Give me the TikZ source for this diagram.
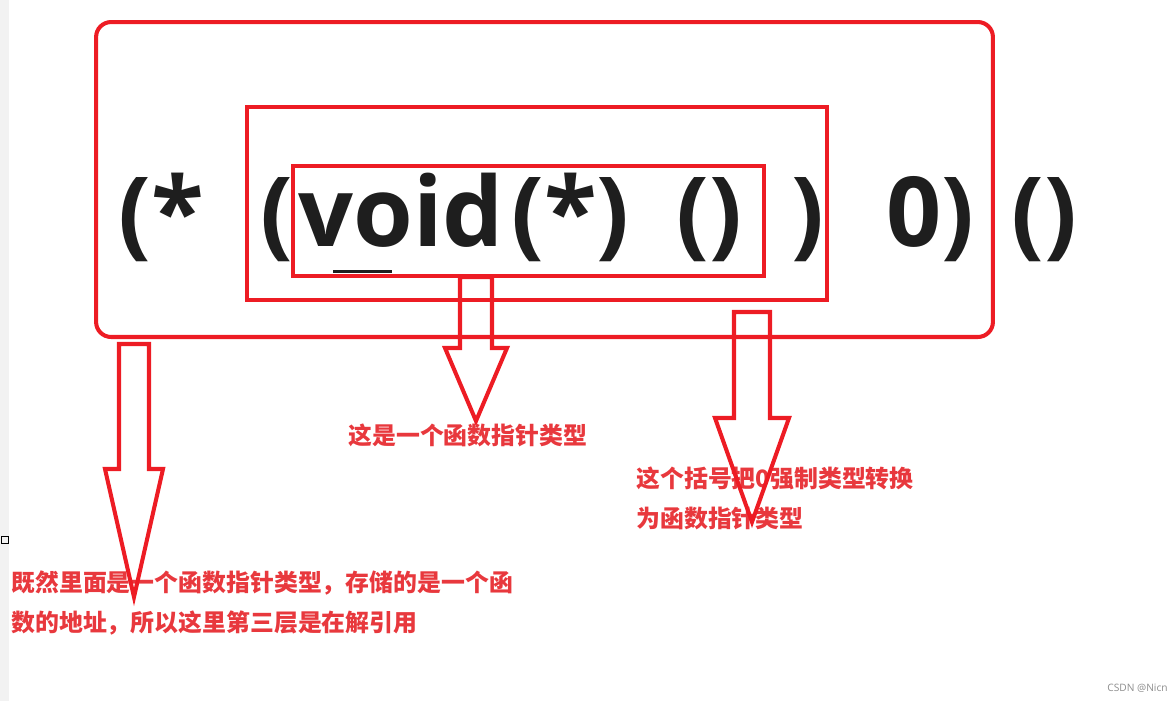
\documentclass[tikz,border=0pt]{standalone}
\usepackage{fontspec}
\usetikzlibrary{positioning,fit}
\newfontfamily\codefont{Open Sans}
\newfontfamily\cjk{Noto Sans CJK SC}
\definecolor{mkred}{HTML}{ED1C24}
\definecolor{mktxt}{HTML}{E8383D}
\definecolor{mkink}{HTML}{1E1E1E}
\definecolor{mkside}{HTML}{F2F2F2}
\tikzset{
  rbox/.style={draw=mkred, line width=2.3pt, inner sep=0pt},
  code/.style={anchor=base west, inner sep=0pt, text=mkink, font=\codefont\bfseries\fontsize{55}{60}\selectfont},
  note/.style={anchor=west, inner sep=0pt, align=left, text=mktxt, font=\cjk\bfseries\fontsize{13.6}{22.7}\selectfont},
  blockarr/.style={draw=mkred, line width=2.3pt, line join=miter},
}

\begin{document}
\begin{tikzpicture}[x=0.02cm, y=-0.02cm]
    \useasboundingbox (0,0) rectangle (1176,701);
    \fill[mkside] (0,0) rectangle (9,701);
    \node[draw=black, line width=0.9pt, minimum size=0.14cm, inner sep=0pt] (mark) at (5,540) {};
    % the three frames
    \node[rbox, rounded corners=0.3cm, minimum width=17.94cm, minimum height=6.3cm] (outer) at (544.5,179.5) {};
    \node[rbox, minimum width=11.6cm, minimum height=3.86cm] (mid) at (537,203.5) {};
    \node[rbox, minimum width=9.42cm, minimum height=2.2cm] (inner) at (528.5,221) {};
    % the expression
    \foreach \nm/\x/\tx in {t1/118/{(*}, t2/260/{(}, t3/298/{void}, t4/511/{(*)}, t5/676/{()}, t6/791/{)}, t7/886/{0)}, t8/1011/{()}}
    {
      \node[code] (\nm) at (\x,246) {\tx};
    }
    \draw[mkink, line width=1.7pt] (333,271) -- (392,271);
    % labels
    \node[note] (lbl1) at (11,603) {既然里面是一个函数指针类型，存储的是一个函\\数的地址，所以这里第三层是在解引用};
    \node[note] (lbl2) at (348,435) {这是一个函数指针类型};
    \node[note] (lbl3) at (636,498) {这个括号把0强制类型转换\\为函数指针类型};
    % block arrows
    \foreach \nm/\cx/\ty/\sy/\py/\s/\h in {a1/134/344/469/597/15/29, a2/476/277/348/421/16/31, a3/752/312/418/522/18/37}
    {
      \draw[blockarr] (\cx-\s,\ty) -- (\cx+\s,\ty) -- (\cx+\s,\sy) -- (\cx+\h,\sy)
        -- (\cx,\py) coordinate (\nm) -- (\cx-\h,\sy) -- (\cx-\s,\sy) -- cycle;
    }
    \node[anchor=east, inner sep=0pt, text=black!45, font=\codefont\fontsize{5.8}{7}\selectfont] (wm) at (1168,688) {CSDN @Nicn};
  \end{tikzpicture}
\end{document}
